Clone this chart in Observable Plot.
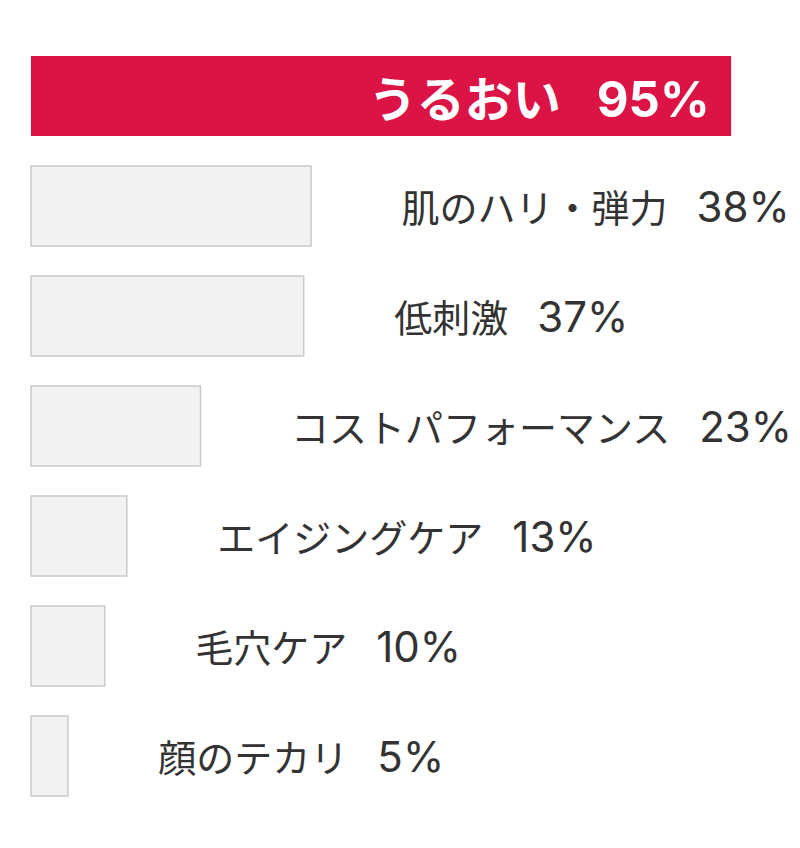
<!DOCTYPE html>
<html>
<head>
<meta charset="utf-8">
<script src="https://cdn.jsdelivr.net/npm/d3@7"></script>
<script src="https://cdn.jsdelivr.net/npm/@observablehq/plot@0.6"></script>
<style>
  html, body { margin: 0; padding: 0; background: #fff; }
</style>
</head>
<body>
<div id="chart"></div>
<script>
const categories = ["うるおい", "肌のハリ・弾力", "低刺激", "コストパフォーマンス", "エイジングケア", "毛穴ケア", "顔のテカリ"];
const values = [95, 38, 37, 23, 13, 10, 5];
const highlightIndex = 0;

const data = categories.map((c, i) => ({category: c, value: values[i], highlight: i === highlightIndex}));
const top1 = data.filter(d => d.highlight);
const rest = data.filter(d => !d.highlight);
const labelText = d => d.category + " " + d.value + "%";

const chart = Plot.plot({
  width: 800,
  height: 848,
  marginLeft: 31,
  marginRight: 32,
  marginTop: 54,
  marginBottom: 51,
  style: {fontFamily: "'Noto Sans CJK JP', sans-serif", background: "#fff"},
  x: {axis: null, domain: [0, 100]},
  y: {axis: null, domain: categories, paddingInner: 0.276, paddingOuter: 0},
  marks: [
    Plot.barX(rest, {x: "value", y: "category", fill: "#f2f2f2", stroke: "#c9c9c9", strokeWidth: 1.5}),
    Plot.barX(top1, {x: "value", y: "category", fill: "#dc1446"}),
    Plot.text(rest, {x: "value", y: "category", text: labelText, className: "lbl-rest",
      textAnchor: "start", dx: 90, dy: 3, fontSize: 38, fill: "#333"}),
    Plot.text(top1, {x: "value", y: "category", text: labelText, className: "lbl-top",
      textAnchor: "end", dx: -22, dy: 5, fontSize: 48, fontWeight: "bold", fill: "#fff"})
  ]
});

// Split each label into the category part and a larger percentage part.
function splitLabels(selector, pctSize, gap) {
  chart.querySelectorAll(selector + " text").forEach(t => {
    const s = t.textContent;
    const k = s.lastIndexOf(" ");
    const name = s.slice(0, k), pct = s.slice(k + 1);
    t.textContent = "";
    const a = document.createElementNS("http://www.w3.org/2000/svg", "tspan");
    a.textContent = name;
    const b = document.createElementNS("http://www.w3.org/2000/svg", "tspan");
    b.textContent = pct;
    b.setAttribute("dx", gap);
    b.setAttribute("font-size", pctSize);
    b.setAttribute("font-family", "Inter, 'Liberation Sans', sans-serif");
    t.appendChild(a);
    t.appendChild(b);
  });
}
splitLabels(".lbl-rest", 42, 29);
splitLabels(".lbl-top", 49, 36);

document.getElementById("chart").appendChild(chart);
</script>
</body>
</html>
